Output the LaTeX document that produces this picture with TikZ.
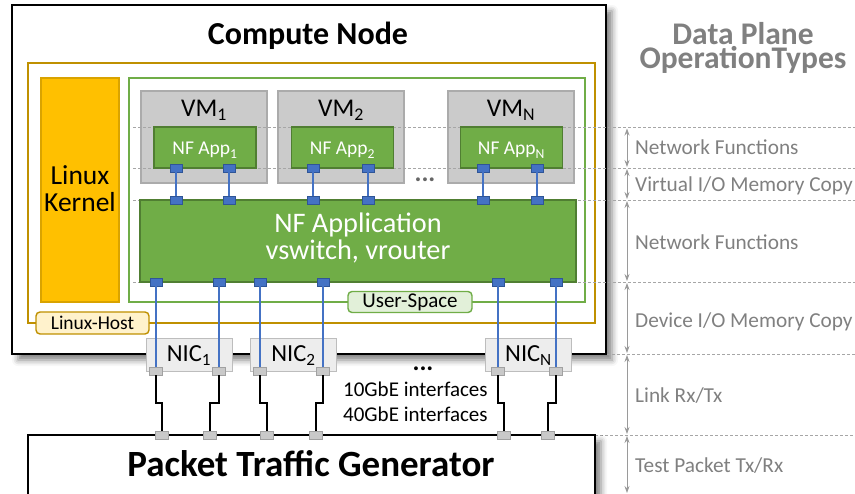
\documentclass[tikz,border=0pt]{standalone}
\usepackage{fontspec}
\setmainfont{Carlito}
\usetikzlibrary{positioning,arrows.meta,shadows.blur}

\definecolor{nfgreen}{HTML}{70AD47}
\definecolor{nfdark}{HTML}{507E32}
\definecolor{uslight}{HTML}{E2F0D9}
\definecolor{hostgold}{HTML}{BF9000}
\definecolor{hostlight}{HTML}{FFF2CC}
\definecolor{kernelorange}{HTML}{FFC000}
\definecolor{kernelborder}{HTML}{D9A300}
\definecolor{vmgray}{HTML}{CBCBCB}
\definecolor{vmborder}{HTML}{ABABAB}
\definecolor{nicgray}{HTML}{EDEDED}
\definecolor{nicborder}{HTML}{BDBDBD}
\definecolor{portblue}{HTML}{4472C4}
\definecolor{portbluedark}{HTML}{2F5597}
\definecolor{portgray}{HTML}{C9C9C9}
\definecolor{optext}{HTML}{808080}

\newcommand{\setfs}[1]{\fontsize{#1}{#1}\selectfont}

\begin{document}
\begin{tikzpicture}[x=1pt,y=-1pt,
    plainbox/.style={rectangle, draw, inner sep=0pt},
    vmbox/.style={plainbox, fill=vmgray, draw=vmborder, line width=1.2pt, minimum width=126, minimum height=92},
    appbox/.style={plainbox, fill=nfgreen, draw=nfdark, line width=1.2pt, minimum width=102, minimum height=41},
    nicbox/.style={plainbox, fill=nicgray, draw=nicborder, line width=0.8pt, minimum width=86, minimum height=33},
    tagbox/.style={plainbox, rounded corners=4pt, line width=1.4pt},
    bport/.style={plainbox, fill=portblue, draw=portbluedark, line width=0.6pt, minimum width=12, minimum height=8},
    gport/.style={plainbox, fill=portgray, draw=portgray!80!black, line width=0.5pt, minimum width=13, minimum height=8},
    blink/.style={portblue, line width=1.6pt},
    wire/.style={black, line width=1.7pt},
    levelline/.style={optext!70, line width=0.6pt, dash pattern=on 3pt off 2pt},
    opspan/.style={optext!80, line width=0.8pt, shorten <=1pt, shorten >=1pt,
        {Stealth[length=7pt,width=5pt,inset=2.5pt]}-{Stealth[length=7pt,width=5pt,inset=2.5pt]}},
    optype/.style={text=optext, anchor=base west, inner sep=0pt, font=\setfs{21.3}},
    shade/.style={blur shadow={shadow xshift=6pt, shadow yshift=-6pt, shadow blur radius=6pt, shadow opacity=50}}
  ]
  \clip (0,0) rectangle (855,494);

  % Compute node and its frames
  \node[plainbox, draw=black, line width=2.2pt, fill=white, minimum width=594, minimum height=349, shade] (compute) at (309,179.5) {};
  \node[anchor=base, font=\bfseries\setfs{32}] (computetitle) at (308,45) {Compute Node};
  \node[plainbox, draw=hostgold, line width=1.5pt, minimum width=567, minimum height=260] (host) at (311.5,193) {};
  \node[plainbox, draw=kernelborder, fill=kernelorange, line width=1.5pt, minimum width=78, minimum height=224] (kernel) at (80,190) {};
  \node[anchor=base, font=\setfs{27.5}] (kernelline1) at (80,185) {Linux};
  \node[anchor=base, font=\setfs{27.5}] (kernelline2) at (80,212) {Kernel};
  \node[plainbox, draw=nfgreen, line width=1.5pt, minimum width=456, minimum height=224] (userspace) at (357,190) {};

  % Virtual machines
  \node[vmbox] (vm1) at (204,137) {};
  \node[vmbox] (vm2) at (341,137) {};
  \node[vmbox] (vmN) at (511,137) {};
  \node[anchor=base, font=\setfs{25.5}] (vm1label) at (vm1.center |- 0,117) {VM\textsubscript{1}};
  \node[anchor=base, font=\setfs{25.5}] (vm2label) at (vm2.center |- 0,117) {VM\textsubscript{2}};
  \node[anchor=base, font=\setfs{25.5}] (vmNlabel) at (vmN.center |- 0,117) {VM\textsubscript{N}};
  \node[anchor=base, text=black!60, font=\bfseries\setfs{26}] (vmdots) at (425,182) {...};

  % Operation type levels
  \foreach \y in {127.5,168,200,282}
    \draw[levelline] (133,\y) -- (855,\y);
  \draw[levelline] (compute.east |- 0,354) -- (855,354);
  \draw[levelline] (595,435) -- (855,435);

  % Applications
  \node[appbox] (app1) at (205,147.5) {};
  \node[appbox] (app2) at (342.5,147.5) {};
  \node[appbox] (appN) at (511.5,147.5) {};
  \node[anchor=base, text=white, font=\setfs{19.5}] (app1label) at (205,155) {NF App\textsubscript{1}};
  \node[anchor=base, text=white, font=\setfs{19.5}] (app2label) at (342.5,155) {NF App\textsubscript{2}};
  \node[anchor=base, text=white, font=\setfs{19.5}] (appNlabel) at (511.5,155) {NF App\textsubscript{N}};
  \node[appbox, minimum width=436, minimum height=82] (nfapp) at (358,241) {};
  \node[anchor=base, text=white, font=\setfs{28.3}] (nfappline1) at (358,233) {NF Application};
  \node[anchor=base, text=white, font=\setfs{28.3}] (nfappline2) at (358,260) {vswitch, vrouter};

  % Frame tags
  \node[tagbox, draw=nfgreen, fill=uslight, minimum width=124, minimum height=21, font=\setfs{21}] (usertag) at (410,302) {User-Space};
  \node[tagbox, draw=hostgold, fill=hostlight, minimum width=113, minimum height=22, font=\setfs{19.5}] (hosttag) at (92.5,323) {Linux-Host};

  % Network interface cards
  \node[nicbox] (nic1) at (189,354.5) {};
  \node[nicbox] (nic2) at (293.5,354.5) {};
  \node[nicbox] (nicN) at (528.5,354.5) {};
  \node[anchor=base, font=\setfs{24.5}] (nic1label) at (189,362) {NIC\textsubscript{1}};
  \node[anchor=base, font=\setfs{24.5}] (nic2label) at (293.5,362) {NIC\textsubscript{2}};
  \node[anchor=base, font=\setfs{24.5}] (nicNlabel) at (528.5,362) {NIC\textsubscript{N}};

  % Packet traffic generator
  \node[plainbox, draw=black, line width=2.2pt, fill=white, minimum width=567, minimum height=120, shade] (generator) at (311.5,495) {};
  \node[anchor=base, font=\bfseries\setfs{37}] (generatortitle) at (311,477) {Packet Traffic Generator};

  % Virtual I/O ports
  \foreach \x [count=\i] in {176,229,313,368,483,537} {
    \node[bport] (vup\i) at (\x,168) {};
    \node[bport] (vlo\i) at (\x,200) {};
    \draw[blink] (vup\i.south) -- (vlo\i.north);
  }

  % Device I/O ports and links
  \foreach \x/\g [count=\i] in {156/162,219/210,260/267,323/316,498/504,556/548} {
    \node[bport] (dev\i) at (\x,282) {};
    \node[gport] (nicport\i) at (\x,371) {};
    \node[gport] (genport\i) at (\g,435) {};
    \draw[blink] (dev\i.south) -- (nicport\i.north);
    \draw[wire] (nicport\i.south) -- ++(0,28) -| (genport\i.north);
  }

  \node[anchor=base, font=\bfseries\setfs{26}] (nicdots) at (423,371) {...};
  \node[anchor=base west, inner sep=0pt, font=\setfs{21}] (ifline1) at (343,397) {10GbE interfaces};
  \node[anchor=base west, inner sep=0pt, font=\setfs{21}] (ifline2) at (343,422) {40GbE interfaces};

  % Data plane operation types
  \node[anchor=base, align=center, inner sep=0pt, text=optext, font=\bfseries\fontsize{31.5}{24}\selectfont] (optitle) at (743,69) {Data Plane\\OperationTypes};
  \foreach \y [count=\i from 0] in {127.5,168,200,282,354,435,494}
    \coordinate (lv\i) at (627,\y);
  \foreach \a/\b in {0/1,1/2,2/3,3/4,4/5,5/6}
    \draw[opspan] (lv\a) -- (lv\b);
  \node[optype] (op1) at (635,155) {Network Functions};
  \node[optype] (op2) at (635,192) {Virtual I/O Memory Copy};
  \node[optype] (op3) at (635,250) {Network Functions};
  \node[optype] (op4) at (635,328) {Device I/O Memory Copy};
  \node[optype] (op5) at (635,403) {Link Rx/Tx};
  \node[optype] (op6) at (635,472) {Test Packet Tx/Rx};
\end{tikzpicture}
\end{document}
